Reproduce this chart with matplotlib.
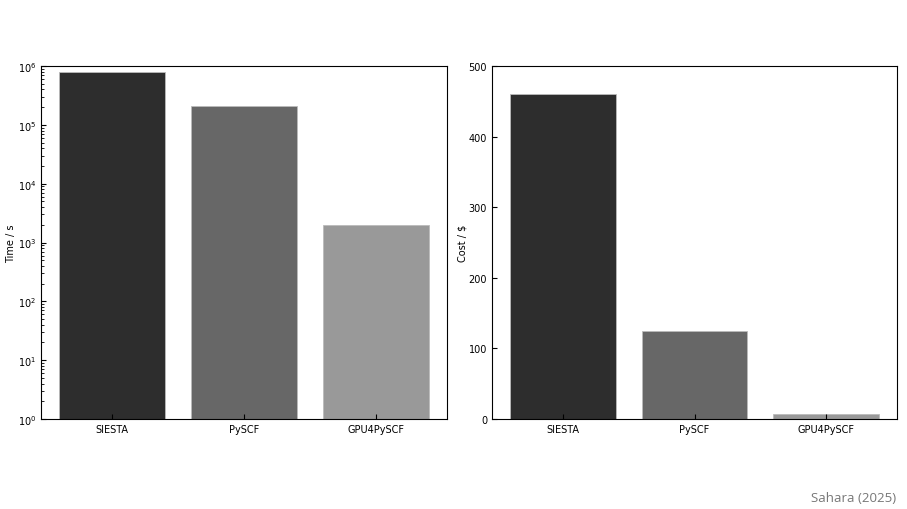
import matplotlib.pyplot as plt

codes = ['SIESTA', 'PySCF', 'GPU4PySCF']
time_s = [7.9e5, 2.1e5, 2.0e3]
cost_usd = [460, 125, 7]
colors = ['#2d2d2d', '#676767', '#999999']

fig = plt.figure(figsize=(9.07, 5.1), dpi=100)
ax1 = fig.add_axes([41 / 907, 90 / 510, 406 / 907, 353 / 510])
ax2 = fig.add_axes([492 / 907, 90 / 510, 405 / 907, 353 / 510])

ax1.bar(codes, time_s, color=colors, width=0.8, edgecolor='#bbbbbb', linewidth=0.6)
ax1.set_yscale('log')
ax1.set_ylim(1, 1e6)
ax1.set_ylabel('Time / s', fontsize=7, labelpad=1)

ax2.bar(codes, cost_usd, color=colors, width=0.8, edgecolor='#bbbbbb', linewidth=0.6)
ax2.set_ylim(0, 500)
ax2.set_yticks([0, 100, 200, 300, 400, 500])
ax2.set_ylabel('Cost / $', fontsize=7, labelpad=1)

for ax in (ax1, ax2):
    ax.tick_params(axis='both', which='both', direction='in', labelsize=7,
                   top=False, right=False)
    for sp in ax.spines.values():
        sp.set_linewidth(0.8)

fig.text(0.988, 0.01, 'Sahara (2025)', ha='right', va='bottom',
         fontsize=9.5, color='#777777', family='Open Sans')

fig.savefig('out.png', dpi=100)
